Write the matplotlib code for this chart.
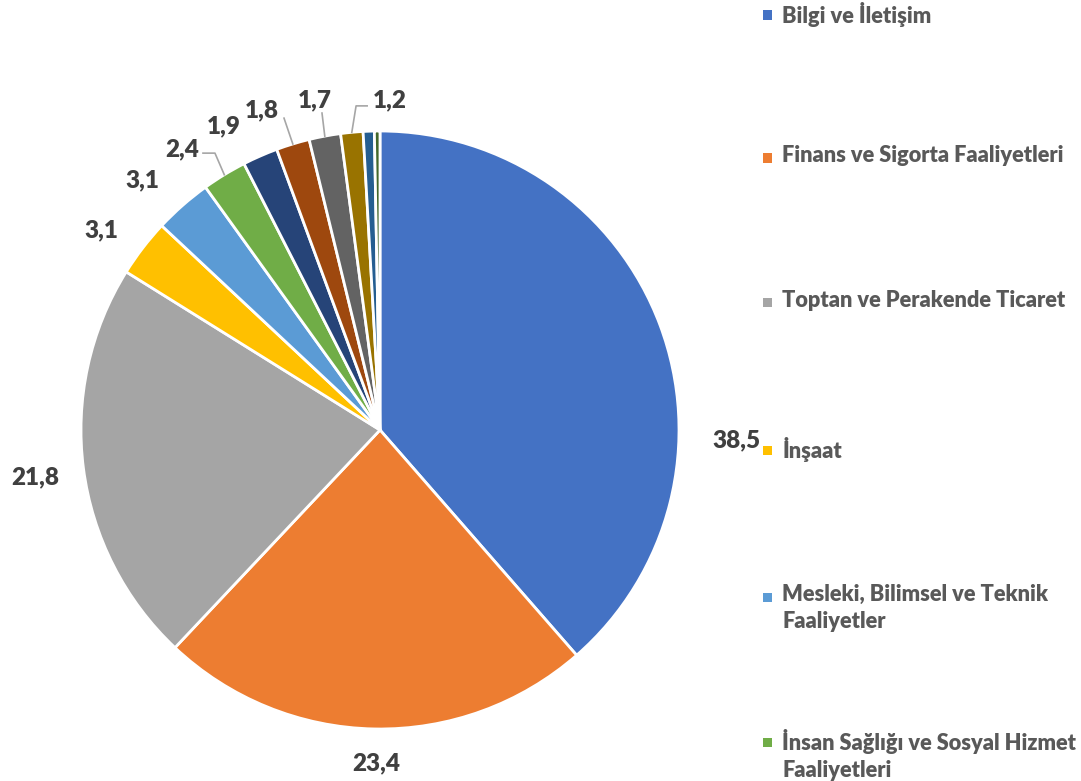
import matplotlib.pyplot as plt
from matplotlib.patches import Rectangle
import numpy as np

# Sector shares (%)
sectors = [
    "Bilgi ve İletişim",
    "Finans ve Sigorta Faaliyetleri",
    "Toptan ve Perakende Ticaret",
    "İnşaat",
    "Mesleki, Bilimsel ve Teknik\nFaaliyetler",
    "İnsan Sağlığı ve Sosyal Hizmet\nFaaliyetleri",
    "İmalat",
    "Ulaştırma ve Depolama",
    "İdari ve Destek Hizmet Faaliyetleri",
    "Konaklama ve Yiyecek Hizmeti Faaliyetleri",
    "Kültür, Sanat, Eğlence, Dinlence ve Spor",
    "Diğer",
]
shares = [38.5, 23.4, 21.8, 3.1, 3.1, 2.4, 1.9, 1.8, 1.7, 1.2, 0.6, 0.3]
colors = ["#4472C4", "#ED7D31", "#A5A5A5", "#FFC000", "#5B9BD5", "#70AD47",
          "#264478", "#9E480E", "#636363", "#997300", "#255E91", "#43682B"]

# label anchors (pie radius = 1), only the first ten slices carry a label
label_xy = [(1.191, -0.033), (-0.013, -1.114), (-1.154, -0.157),
             (-0.933, 0.669), (-0.793, 0.836), (-0.660, 0.940),
             (-0.522, 1.017), (-0.395, 1.070), (-0.217, 1.104),
             (0.033, 1.104)]
# leader line elbows for the thin slices
leaders = {
    5: [(-0.552, 0.926), (-0.592, 0.926)],
    7: [(-0.321, 1.043)],
    8: [(-0.194, 1.060)],
    9: [(-0.080, 1.084), (-0.043, 1.084)],
}

W, H = 1081, 781
cx, cy, R = 380, 430, 299

fig = plt.figure(figsize=(W / 100, H / 100), dpi=100)
ax = fig.add_axes([0, 0, 1, 1])
wedges, _ = ax.pie(shares, colors=colors, startangle=90, counterclock=False,
                   radius=1, wedgeprops=dict(edgecolor="white", linewidth=2))
ax.set_xlim(-cx / R, (W - cx) / R)
ax.set_ylim(-(H - cy) / R, cy / R)
ax.set_aspect("auto")
ax.axis("off")

for i, (x, y) in enumerate(label_xy):
    txt = f"{shares[i]:.1f}".replace(".", ",")
    ax.text(x, y, txt, ha="center", va="center", fontsize=17.5,
            fontweight="heavy", family="Lato", color="#404040")
    if i in leaders:
        w = wedges[i]
        mid = np.deg2rad((w.theta1 + w.theta2) / 2)
        pts = [(np.cos(mid), np.sin(mid))] + leaders[i]
        xs, ys = zip(*pts)
        ax.plot(xs, ys, color="#A6A6A6", lw=1.2)

# legend (only the entries that fit in the frame)
leg_y = [15, 158, 303, 450, 597, 742]
for i, py in enumerate(leg_y):
    fig.patches.append(Rectangle(((763) / W, 1 - (py + 4.5) / H), 9 / W, 9 / H,
                                 transform=fig.transFigure,
                                 facecolor=colors[i], edgecolor="none"))
    fig.text(782 / W, 1 - (py - 13) / H, sectors[i], ha="left", va="top",
             fontsize=15.7, fontweight="heavy", family="Lato",
             color="#595959", linespacing=1.38)

fig.savefig("out.png", dpi=100)
